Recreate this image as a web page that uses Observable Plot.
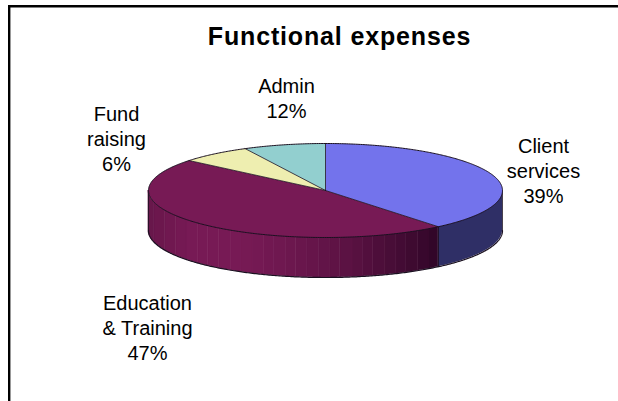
<!DOCTYPE html>
<html>
<head>
<meta charset="utf-8">
<script src="https://cdn.jsdelivr.net/npm/d3@7"></script>
<script src="https://cdn.jsdelivr.net/npm/@observablehq/plot@0.6"></script>
<style>
html,body{margin:0;padding:0;background:#fff;}
#chart{position:relative;width:618px;height:401px;overflow:hidden;}
#chart svg{position:absolute;left:0;top:0;}
.chart-title text{letter-spacing:0.85px;}
</style>
</head>
<body>
<div id="chart"></div>
<script>
// Data
const categories = ["Client services", "Education & Training", "Fund raising", "Admin"];
const labelLines = ["Client\nservices\n39%", "Education\n& Training\n47%", "Fund\nraising\n6%", "Admin\n12%"];
// share of the circle each slice actually occupies in the picture
const shares = [39, 47, 6.5, 7.5];
const topColors = ["#7373ec", "#771a55", "#eeeeb0", "#92cfcf"];
const sideColors = ["#2f2f66", "#771a55"];

// Layout
const W = 618, H = 401;
const cx = 325, cy = 190, rx = 177, ry = 47, depth = 40;
const labelPos = [[543, 134], [147, 291], [116, 102], [286, 74]];

const arcs = d3.pie().sort(null).value(d => d)(shares);
const px = a => cx + rx * Math.sin(a);
const py = a => cy - ry * Math.cos(a);
const steps = (a0, a1) => {
  const n = Math.max(2, Math.ceil((a1 - a0) / 0.01));
  return d3.range(n + 1).map(i => a0 + (a1 - a0) * i / n);
};

// top-face polygons
const faces = arcs.flatMap((arc, i) => {
  const pts = [[cx, cy], ...steps(arc.startAngle, arc.endAngle).map(a => [px(a), py(a)]), [cx, cy]];
  return pts.map(([x, y]) => ({i, x, y}));
});

// side wall, visible for angles from PI/2 to 3PI/2
const shade = d3.interpolateRgb("#771a55", "#2e0526");
const edgeShade = d3.interpolateRgb("#771a55", "#6a174c");
const bandW = 11;
const sideRows = [];
arcs.slice(0, 2).forEach((arc, i) => {
  const a0 = Math.max(arc.startAngle, Math.PI / 2), a1 = Math.min(arc.endAngle, 3 * Math.PI / 2);
  steps(a0, a1).forEach(a => {
    sideRows.push({i, a, x: px(a), y1: py(a), y2: py(a) + depth});
  });
});
function bandKey(d) { return d.i + ":" + Math.floor(d.x / bandW); }
function bandFill(d) {
  const bx = Math.floor(d.x / bandW) * bandW;
  if (bx < 185) return edgeShade((185 - bx) / 37);
  const t = Math.max(0, Math.min(1, (bx - 235) / (437 - 235)));
  return shade(t * t * 0.55 + t * 0.45);
}
const sideClient = sideRows.filter(d => d.i === 0);
const sideEdu = sideRows.filter(d => d.i === 1);
const eduBands = d3.groups(sideEdu, bandKey).flatMap(([k, rows], j, all) => {
  const next = all[j + 1];
  const r = next ? [...rows, next[1][0]] : rows;
  const fill = bandFill(rows[0]);
  return r.map(d => ({...d, band: k, fill}));
});

const outline = "#1a1020";
const rimTop = steps(0, 2 * Math.PI).map(a => ({x: px(a), y: py(a)}));
const rimLow = steps(Math.PI / 2, 3 * Math.PI / 2).map(a => ({x: px(a), y: py(a) + depth}));
const seams = arcs.flatMap((arc, i) => [
  {i, x: cx, y: cy}, {i, x: px(arc.startAngle), y: py(arc.startAngle)}
]);
const wallEnds = [Math.PI / 2, arcs[0].endAngle, 3 * Math.PI / 2].flatMap((a, i) => [
  {i, x: px(a), y: py(a)}, {i, x: px(a), y: py(a) + depth}
]);

const textStyle = {fontFamily: "'Liberation Sans', Arial, sans-serif", fill: "#000", stroke: "none", lineAnchor: "top", textAnchor: "middle"};

const chart = Plot.plot({
  width: W, height: H,
  margin: 0,
  x: {domain: [0, W], range: [0, W], axis: null},
  y: {domain: [0, H], range: [0, H], axis: null},
  style: {background: "#fff"},
  marks: [
    // frame
    Plot.ruleX([8.7], {y1: 5, y2: H, stroke: "#000", strokeWidth: 2.4}),
    Plot.ruleY([5.7], {x1: 8, x2: W, stroke: "#000", strokeWidth: 2.4}),
    // side walls
    Plot.areaY(sideClient, {x: "x", y1: "y1", y2: "y2", fill: sideColors[0]}),
    Plot.areaY(eduBands, {x: "x", y1: "y1", y2: "y2", z: "band", fill: "fill", stroke: "fill", strokeWidth: 0.7}),
    Plot.line(rimLow, {x: "x", y: "y", stroke: outline, strokeWidth: 1.2}),
    Plot.line(wallEnds, {x: "x", y: "y", z: "i", stroke: outline, strokeWidth: 0.8}),
    // top faces
    Plot.line(faces.filter(d => d.i === 0), {x: "x", y: "y", fill: topColors[0], stroke: "none"}),
    Plot.line(faces.filter(d => d.i === 1), {x: "x", y: "y", fill: topColors[1], stroke: "none"}),
    Plot.line(faces.filter(d => d.i === 2), {x: "x", y: "y", fill: topColors[2], stroke: "none"}),
    Plot.line(faces.filter(d => d.i === 3), {x: "x", y: "y", fill: topColors[3], stroke: "none"}),
    Plot.line(seams, {x: "x", y: "y", z: "i", stroke: outline, strokeWidth: 0.8}),
    Plot.line(rimTop, {x: "x", y: "y", stroke: outline, strokeWidth: 1}),
    // labels
    Plot.text(labelLines, {
      x: (d, i) => labelPos[i][0], y: (d, i) => labelPos[i][1],
      text: d => d, fontSize: 20, lineHeight: 1.27, ...textStyle
    }),
    Plot.text(["Functional expenses"], {x: [339], y: [27], text: d => d, fontSize: 25, fontWeight: "bold", className: "chart-title", ...textStyle})
  ]
});
document.getElementById("chart").append(chart);
</script>
</body>
</html>
